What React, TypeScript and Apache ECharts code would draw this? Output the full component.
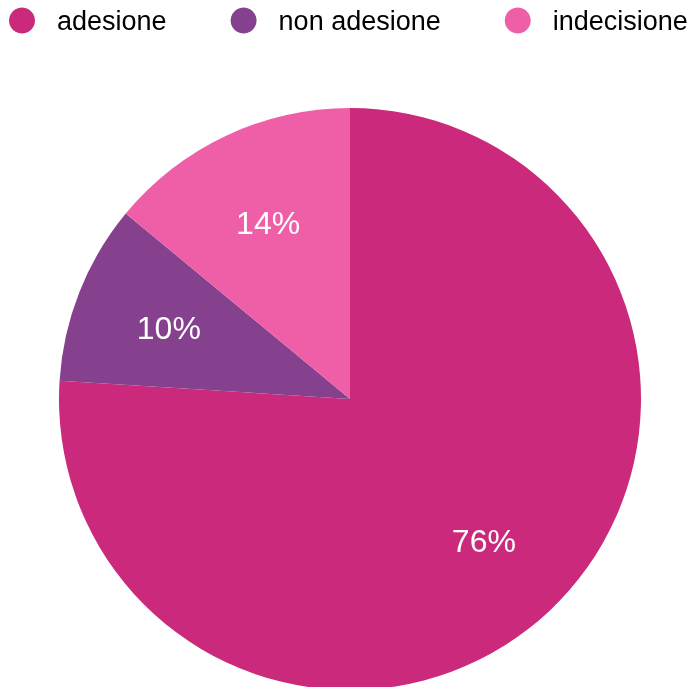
import React, { useEffect, useRef } from "react";
import * as echarts from "echarts";

const categories = ["adesione", "non adesione", "indecisione"];
const values = [76, 10, 14];
const colors = ["#CB297B", "#85418D", "#EF5FA7"];

export default function App() {
  const ref = useRef<HTMLDivElement>(null);
  useEffect(() => {
    if (!ref.current) return;
    const chart = echarts.init(ref.current, undefined, { renderer: "svg" });
    const data = categories.map((name, i) => ({
      name,
      value: values[i],
      itemStyle: { color: colors[i] },
    }));
    chart.setOption({
      animation: false,
      legend: {
        data: categories,
        left: 9,
        top: 7,
        padding: 0,
        icon: "circle",
        itemWidth: 26,
        itemHeight: 26,
        itemGap: 64,
        textStyle: {
          fontFamily: "Liberation Sans, Arial, sans-serif",
          fontSize: 27,
          color: "#000",
          padding: [0, 0, 0, 17],
        },
      },
      series: [
        {
          type: "pie",
          center: [350, 399],
          radius: [0, 291],
          startAngle: 90,
          clockwise: true,
          label: { show: false },
          labelLine: { show: false },
          itemStyle: { borderWidth: 0 },
          silent: true,
          data,
        },
        {
          type: "pie",
          center: [350, 399],
          radius: [97, 291],
          startAngle: 90,
          clockwise: true,
          silent: true,
          itemStyle: { color: "transparent", borderWidth: 0 },
          label: {
            show: true,
            position: "inside",
            formatter: "{c}%",
            color: "#fff",
            fontFamily: "Liberation Sans, Arial, sans-serif",
            fontSize: 32,
            offset: [2, 2],
          },
          labelLine: { show: false },
          data: categories.map((name, i) => ({
            name,
            value: values[i],
            itemStyle: { color: "transparent" },
            ...(i === 0 ? { label: { offset: [-1, -2] } } : {}),
          })),
        },
      ],
    });
    return () => chart.dispose();
  }, []);
  return (
    <div
      ref={ref}
      style={{ position: "fixed", left: 0, top: 0, width: 689, height: 687 }}
    />
  );
}
